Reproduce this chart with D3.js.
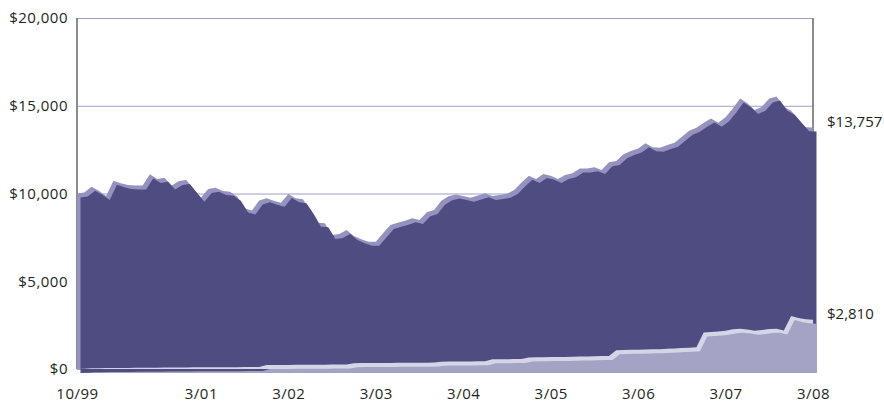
<!DOCTYPE html>
<html>
<head>
<meta charset="utf-8">
<script src="https://cdn.jsdelivr.net/npm/d3@7"></script>
<style>
  body { margin: 0; background: #fff; }
  text { font-family: "Open Sans", sans-serif; font-size: 15px; letter-spacing: 0.5px; fill: #231f20; }
  text.end-label { letter-spacing: 0; }
</style>
</head>
<body>
<svg id="chart" width="884" height="403"></svg>
<script>
'use strict';

// Monthly values, 10/99 .. 3/08
const fundValues = [
  10000, 10050, 10390, 10150, 9860, 10730, 10580, 10480, 10460, 10450,
  11090, 10830, 10900, 10450, 10710, 10770, 10260, 9760, 10260, 10330,
  10140, 10100, 9820, 9150, 9030, 9600, 9725, 9590, 9480, 9970,
  9725, 9670, 9060, 8340, 8300, 7640, 7690, 7920, 7580, 7390,
  7250, 7250, 7730, 8200, 8340, 8450, 8590, 8490, 8930, 9060,
  9590, 9850, 9950, 9860, 9760, 9880, 10010, 9860, 9910, 9990,
  10200, 10620, 11010, 10830, 11110, 11010, 10830, 11050, 11150, 11430,
  11430, 11490, 11340, 11780, 11850, 12230, 12420, 12570, 12860, 12630,
  12610, 12760, 12890, 13240, 13580, 13750, 14030, 14280, 14030, 14340,
  14850, 15420, 15140, 14760, 14950, 15420, 15520, 14950, 14720, 14230,
  13770, 13757
];

const distValues = [
  0, 20, 40, 45, 50, 55, 60, 60, 65, 70,
  70, 75, 80, 80, 90, 90, 95, 95, 100, 100,
  100, 105, 105, 110, 110, 115, 230, 230, 235, 235,
  240, 240, 245, 245, 240, 250, 250, 255, 330, 335,
  340, 340, 345, 345, 350, 350, 355, 360, 360, 365,
  420, 425, 425, 430, 430, 435, 440, 550, 555, 560,
  565, 570, 660, 665, 670, 680, 685, 690, 700, 710,
  715, 725, 735, 740, 1070, 1080, 1090, 1100, 1110, 1120,
  1130, 1150, 1170, 1190, 1210, 1235, 2080, 2108, 2130, 2185,
  2260, 2300, 2245, 2185, 2220, 2280, 2300, 2200, 3020, 2900,
  2840, 2810
];

const xTickIndex = [0, 17, 29, 41, 53, 65, 77, 89, 101];
const xTickLabels = ['10/99', '3/01', '3/02', '3/03', '3/04', '3/05', '3/06', '3/07', '3/08'];
const yTicks = [0, 5000, 10000, 15000, 20000];

const svg = d3.select('#chart');

const plotLeft = 77;
const plotRight = 813;
const plotTop = 18;
const plotBottom = 369;
const depthX = 3.5;
const depthY = 4;

const x = d3.scaleLinear().domain([0, fundValues.length - 1]).range([plotLeft, plotRight]);
const y = d3.scaleLinear().domain([0, 20000]).range([plotBottom, plotTop]);

const money = d3.format('$,');

// Gridlines
svg.append('g')
  .attr('transform', 'translate(' + plotLeft + ',0)')
  .call(d3.axisLeft(y).tickValues(yTicks).tickSize(-(plotRight - plotLeft)).tickFormat(''))
  .call(g => g.select('.domain').remove())
  .call(g => g.selectAll('line').attr('stroke', '#a19dcb').attr('stroke-width', 1));

// Side rules
svg.append('line')
  .attr('x1', plotLeft).attr('x2', plotLeft).attr('y1', plotTop).attr('y2', plotBottom)
  .attr('stroke', '#8b8b8e').attr('stroke-width', 2);
svg.append('line')
  .attr('x1', plotRight).attr('x2', plotRight).attr('y1', plotTop).attr('y2', plotBottom)
  .attr('stroke', '#8b8b8e').attr('stroke-width', 2);

const area = d3.area()
  .x((d, i) => x(i))
  .y0(y(0))
  .y1(d => y(d));

// back face at the value, front face pushed down-right for depth
function drawSeries (values, backColor, frontColor) {
  svg.append('path')
    .datum(values)
    .attr('d', area)
    .attr('fill', backColor);
  svg.append('path')
    .datum(values)
    .attr('d', area)
    .attr('transform', 'translate(' + depthX + ',' + depthY + ')')
    .attr('fill', frontColor);
}

drawSeries(fundValues, '#9592bf', '#4f4c82');
drawSeries(distValues, '#d6d5e8', '#a5a3c5');

// Y axis labels
svg.append('g')
  .attr('transform', 'translate(' + (plotLeft - 9) + ',0)')
  .call(d3.axisLeft(y).tickValues(yTicks).tickSize(0).tickPadding(0).tickFormat(money))
  .call(g => g.select('.domain').remove())
  .call(g => g.selectAll('text').attr('font-family', null).attr('font-size', null));

// X axis labels
svg.append('g')
  .attr('transform', 'translate(0,' + (plotBottom + 19) + ')')
  .call(d3.axisBottom(x).tickValues(xTickIndex).tickSize(0).tickPadding(0)
    .tickFormat((d, i) => xTickLabels[i]))
  .call(g => g.select('.domain').remove())
  .call(g => g.selectAll('text').attr('font-family', null).attr('font-size', null));

// End value labels
const lastIndex = fundValues.length - 1;
[fundValues, distValues].forEach(values => {
  svg.append('text')
    .attr('class', 'end-label')
    .attr('x', x(lastIndex) + 14)
    .attr('y', y(values[lastIndex]) - 6)
    .attr('dy', '0.35em')
    .text(money(values[lastIndex]));
});
</script>
</body>
</html>
